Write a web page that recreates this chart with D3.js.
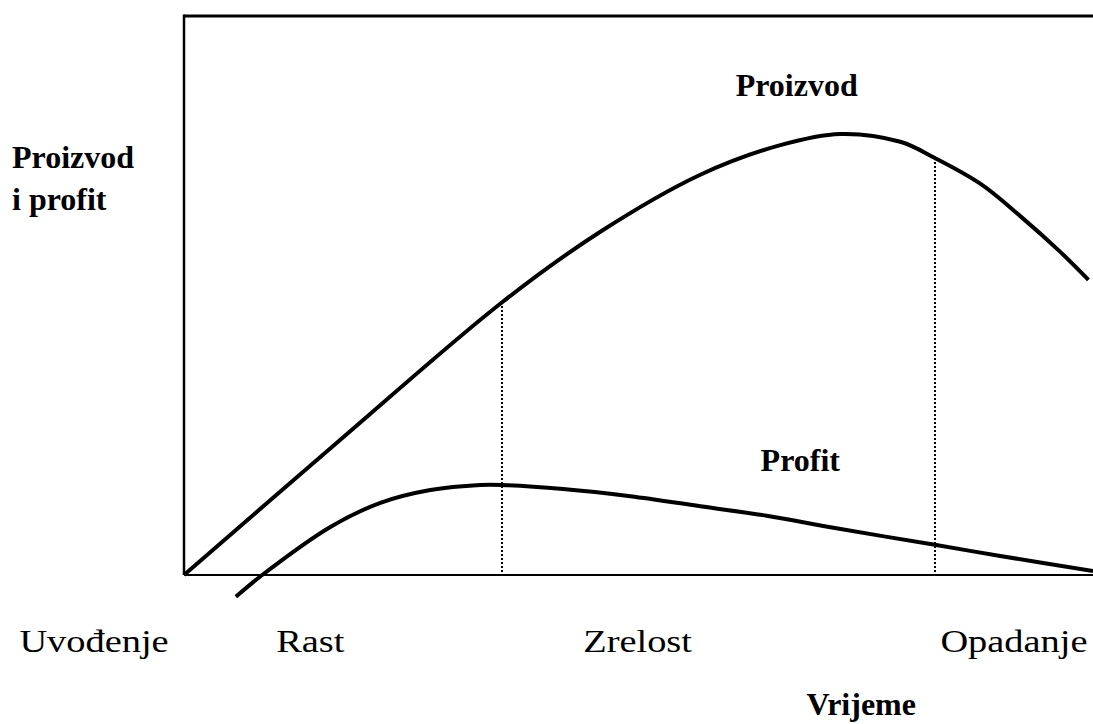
<!DOCTYPE html>
<html><head><meta charset="utf-8">
<script src="https://cdn.jsdelivr.net/npm/d3@7"></script>
<style>body{margin:0;background:#fff}svg{display:block}</style>
</head><body>
<script>
// Data (time 0..100, value 0..100)
const proizvodX = [0, 17.2, 35.0, 45.8, 56.8, 65.6, 72.2, 78.8, 82.6, 87.6, 92.0, 96.4, 99.5];
const proizvodY = [0, 24.2, 48.8, 61.4, 71.6, 76.9, 78.9, 77.5, 74.6, 70.0, 64.2, 57.8, 52.8];
const profitX = [5.7, 8.6, 16.1, 21.6, 27.1, 32.6, 35.0, 41.7, 49.1, 56.8, 64.1, 71.6, 82.6, 89.8, 100];
const profitY = [-3.9, 0, 8.6, 12.9, 15.2, 16.1, 16.1, 15.4, 14.1, 12.3, 10.6, 8.4, 5.4, 3.4, 0.7];
const stageBounds = [35.0, 82.6];
const stageTops = [48.8, 74.6];
const stageLabels = ["Uvođenje", "Rast", "Zrelost", "Opadanje"];
const stageLabelX = [-9.9, 13.9, 49.9, 91.3];
const seriesLabels = ["Proizvod", "Profit"];
const seriesLabelX = [67.4, 67.8];
const seriesLabelY = [85.7, 18.6];
const yTitle = ["Proizvod", "i profit"];
const xTitle = "Vrijeme";

const W = 1093, H = 724;
const svg = d3.select("body").append("svg").attr("width", W).attr("height", H);
const x = d3.scaleLinear().domain([0, 100]).range([184, 1093]);
const y = d3.scaleLinear().domain([0, 100]).range([575, 16]);

// frame
svg.append("line").attr("x1", x(0)).attr("x2", x(100)).attr("y1", y(100)).attr("y2", y(100))
  .attr("stroke", "#000").attr("stroke-width", 3);
svg.append("line").attr("x1", x(0)).attr("x2", x(0)).attr("y1", y(100) - 1.5).attr("y2", y(0))
  .attr("stroke", "#000").attr("stroke-width", 2.5);
svg.append("line").attr("x1", x(0)).attr("x2", x(100)).attr("y1", y(0)).attr("y2", y(0))
  .attr("stroke", "#000").attr("stroke-width", 2);

// dotted stage lines
svg.selectAll(".stage").data(stageBounds).join("line")
  .attr("x1", d => Math.round(x(d))).attr("x2", d => Math.round(x(d)))
  .attr("y1", (d, i) => Math.round(y(stageTops[i]))).attr("y2", y(0))
  .attr("stroke", "#000").attr("stroke-width", 2).attr("stroke-dasharray", "2,2");

const line = d3.line().x(d => x(d[0])).y(d => y(d[1])).curve(d3.curveCatmullRom.alpha(0.5));
svg.append("path").attr("d", line(d3.zip(proizvodX, proizvodY)))
  .attr("fill", "none").attr("stroke", "#000").attr("stroke-width", 4);
svg.append("path").attr("d", line(d3.zip(profitX, profitY)))
  .attr("fill", "none").attr("stroke", "#000").attr("stroke-width", 4);

const font = "'Liberation Serif', 'Times New Roman', serif";
// series labels
svg.selectAll(".sl").data(seriesLabels).join("text")
  .attr("x", (d, i) => x(seriesLabelX[i])).attr("y", (d, i) => y(seriesLabelY[i]))
  .attr("text-anchor", "middle").attr("font-family", font).attr("font-weight", "bold")
  .attr("font-size", 32).text(d => d);
// stage labels
svg.selectAll(".st").data(stageLabels).join("text")
  .attr("transform", (d, i) => `translate(${x(stageLabelX[i])},652) scale(1.2,1)`)
  .attr("text-anchor", "middle").attr("font-family", font)
  .attr("font-size", 32).text(d => d);
// axis titles
svg.append("text").attr("x", x(74.5)).attr("y", 715).attr("text-anchor", "middle")
  .attr("font-family", font).attr("font-weight", "bold").attr("font-size", 32).text(xTitle);
svg.selectAll(".yt").data(yTitle).join("text")
  .attr("x", 12).attr("y", (d, i) => 168 + i * 42)
  .attr("font-family", font).attr("font-weight", "bold").attr("font-size", 32).text(d => d);
</script>
</body></html>
